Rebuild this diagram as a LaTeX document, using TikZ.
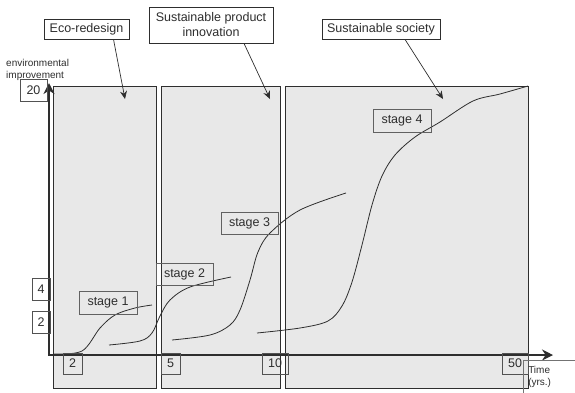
\documentclass[tikz,border=0pt]{standalone}
\usepackage{fontspec}
\setmainfont{Liberation Sans}
\usetikzlibrary{arrows.meta}
\definecolor{panelfill}{HTML}{E8E8E8}
\definecolor{ink}{HTML}{2E2E2E}
\begin{document}
\begin{tikzpicture}[x=1pt,y=-1pt,
  panel/.style={draw=ink, fill=panelfill, line width=0.8pt, inner sep=0pt, anchor=north west},
  labelbox/.style={draw=ink, fill=white, line width=0.8pt, inner sep=0pt, align=center,
    font=\fontsize{12.5}{15}\selectfont, text=ink},
  stagebox/.style={draw=black!62, line width=0.8pt, inner sep=0pt, minimum width=58pt,
    minimum height=23pt, font=\fontsize{12.5}{14}\selectfont, text=ink},
  tickbox/.style={draw=black!68, line width=0.7pt, inner sep=0pt, minimum height=21pt,
    font=\fontsize{12.5}{14}\selectfont, text=ink},
  growth/.style={ink, line width=0.8pt},
  pointer/.style={ink, line width=0.7pt, -{Stealth[length=8pt,width=7pt]}},
  axis/.style={ink, -{Stealth[length=11pt,width=11pt]}}
]
\useasboundingbox (0,0) rectangle (575,392);

% the three phase panels
\node[panel, minimum width=103pt, minimum height=302pt] (eco panel) at (53,86) {};
\node[panel, minimum width=119pt, minimum height=302pt] (spi panel) at (161,86) {};
\node[panel, minimum width=243pt, minimum height=302pt] (ss panel) at (284.5,86) {};

% growth curves of the four stages
\draw[growth] plot[smooth, tension=0.55] coordinates
  {(53,354) (82,351) (100,328) (115,315) (135,308) (152,305)};
\draw[growth] plot[smooth, tension=0.55] coordinates
  {(109,345) (140,341) (152,333) (160,316) (170,300) (190,287) (231,277)};
\draw[growth] plot[smooth, tension=0.55] coordinates
  {(172,340) (210,335) (230,325) (240,310) (250,280) (258,252) (270,233) (300,210) (346,193)};
\draw[growth] plot[smooth, tension=0.55] coordinates
  {(257,333) (300,328) (328,321) (342,306) (352,282) (362,245) (372,205) (382,176)
   (395,155) (415,137) (440,122) (473,101) (500,94) (528,86)};

% stage labels
\node[stagebox] (st1) at (108,302.5) {stage 1};
\node[stagebox, minimum width=57pt, minimum height=22pt] (st2) at (184.5,274) {stage 2};
\node[stagebox, minimum width=57pt, minimum height=22pt] (st3) at (249.5,223) {stage 3};
\node[stagebox] (st4) at (402,120.5) {stage 4};

% phase labels with pointers into the panels
\node[labelbox, minimum width=85pt, minimum height=20pt] (eco) at (86.5,29) {Eco-redesign};
\node[labelbox, minimum width=124pt, minimum height=36pt] (spi) at (211,25)
  {Sustainable product\\innovation};
\node[labelbox, minimum width=118pt, minimum height=20pt] (ss) at (381,29) {Sustainable society};

\coordinate (eco end) at (125,99);
\coordinate (spi end) at (270,99);
\coordinate (ss end) at (443,99);
\draw[pointer] ([xshift=27pt]eco.south) -- (eco end);
\draw[pointer] ([xshift=33pt]spi.south) -- (spi end);
\draw[pointer] ([xshift=24pt]ss.south) -- (ss end);

% axes
\coordinate (origin) at (49,355);
\coordinate (ytip) at (49,83);
\coordinate (xtip) at (553,355);
\draw[axis, line width=1.3pt] (origin) -- (xtip);
\draw[axis, line width=1.9pt] ([yshift=-0.6pt]origin) -- (ytip);

% axis labels and tick values
\node[anchor=north west, align=left, inner sep=0pt, font=\fontsize{10}{12.5}\selectfont,
  text=ink] (ylabel) at (6,59) {environmental\\improvement};
\node[tickbox, minimum width=27pt, minimum height=22pt] (y20) at (33.5,90) {20};
\node[tickbox, minimum width=18pt, minimum height=22pt] (y4) at (41,289) {4};
\node[tickbox, minimum width=18pt, minimum height=22pt] (y2) at (41,322) {2};

\node[tickbox, minimum width=19pt] (x2) at (72.5,363.5) {2};
\node[tickbox, minimum width=19pt] (x5) at (170.5,363.5) {5};
\node[tickbox, minimum width=26pt] (x10) at (275,363.5) {10};
\node[tickbox, minimum width=26pt] (x50) at (515,363.5) {50};

\node[draw=black!55, line width=0.5pt, anchor=north west, inner xsep=5pt, inner ysep=0pt,
  text width=43pt, minimum height=33pt, align=left, font=\fontsize{10}{12.5}\selectfont,
  text=ink] (xlabel) at (523,360) {Time\\(yrs.)};
\end{tikzpicture}
\end{document}
